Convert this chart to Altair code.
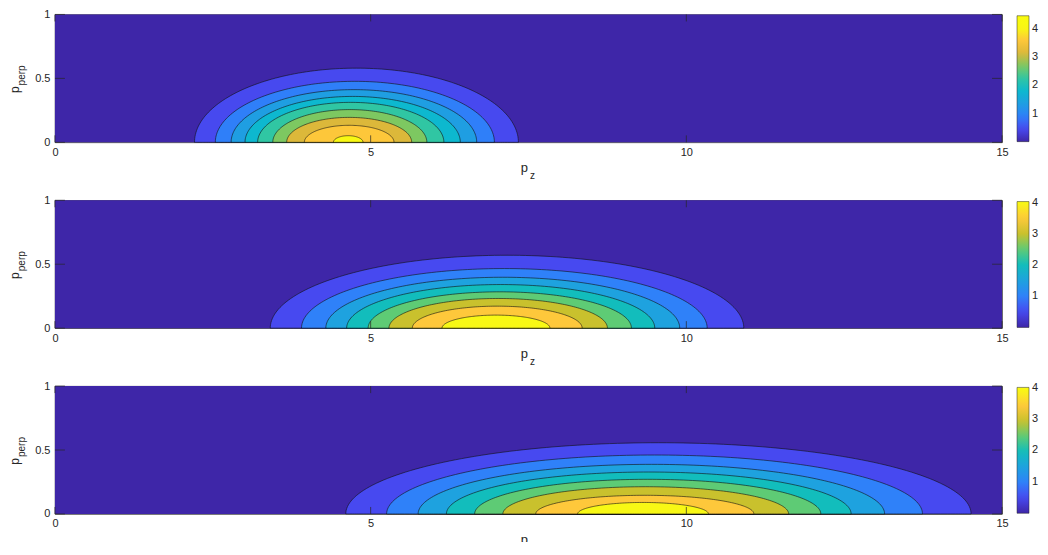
import altair as alt
import numpy as np
import pandas as pd

# ---------------- data ----------------
PZ_RANGE = [0, 15]
PPERP_RANGE = [0, 1]
X_TICKS = [0, 5, 10, 15]
Y_TICKS = [0, 0.5, 1]
CBAR_TICKS = [1, 2, 3, 4]

# contour boundaries, outermost -> innermost: left/right foot on p_perp=0, peak height
p1_levels = [0.45, 0.9, 1.35, 1.8, 2.25, 2.7, 3.15, 3.6, 4.05]
p1_left = [2.21, 2.54, 2.79, 3.01, 3.21, 3.45, 3.67, 3.95, 4.41]
p1_right = [7.34, 6.96, 6.68, 6.42, 6.16, 5.89, 5.65, 5.37, 4.88]
p1_top = [0.58, 0.477, 0.412, 0.359, 0.3125, 0.256, 0.195, 0.133, 0.052]
p1_cmax = 4.48
p1_colors = ["#3e26a8", "#4749ef", "#2f7ff9", "#1f9ee2", "#0db8cf", "#30c6a3",
             "#7dc861", "#dcb83a", "#fdc73a", "#f8f813", "#f9fb0e"]

p2_levels = [0.5, 1.0, 1.5, 2.0, 2.5, 3.0, 3.5, 4.0]
p2_left = [3.41, 3.905, 4.29, 4.62, 4.96, 5.29, 5.66, 6.13]
p2_right = [10.91, 10.33, 9.895, 9.50, 9.13, 8.75, 8.35, 7.84]
p2_top = [0.57, 0.466, 0.398, 0.341, 0.284, 0.232, 0.172, 0.102]
p2_cmax = 4.03
p2_colors = ["#3e26a8", "#4749f0", "#2f81f9", "#1ea2df", "#12bdbc", "#5ecb75",
             "#c9c12d", "#fec83b", "#f8f815", "#f9fb0e"]

p3_levels = [0.49, 0.98, 1.47, 1.96, 2.45, 2.94, 3.43, 3.92]
p3_left = [4.606, 5.253, 5.752, 6.20, 6.647, 7.094, 7.615, 8.278]
p3_right = [14.51, 13.74, 13.14, 12.61, 12.13, 11.62, 11.07, 10.35]
p3_top = [0.557, 0.461, 0.388, 0.328, 0.271, 0.213, 0.146, 0.09]
p3_cmax = 4.01
p3_colors = p2_colors

X_MAIN, X_SUB = "p", "z"
Y_MAIN, Y_SUB = "p", "perp"

# ---------------- styling ----------------
W, H = 948, 128
FONT = "Liberation Sans"
INK = "#262626"


def outline(left, right, top, n=121):
    # half-ellipse outline of one contour through the read feet and peak
    t = np.linspace(0, np.pi, n)
    c = (left + right) / 2
    a = (right - left) / 2
    return pd.DataFrame({"x": c - a * np.cos(t), "y": top * np.sin(t)})


def panel(levels, lefts, rights, tops, cmax, colors):
    xs = alt.Scale(domain=PZ_RANGE, nice=False, zero=False)
    ys = alt.Scale(domain=PPERP_RANGE, nice=False)
    xax = alt.Axis(values=X_TICKS, title=None, ticks=False, tickSize=0, domain=False,
                   grid=False, labelFlush=False, labelPadding=4, format="~g")
    yax = alt.Axis(values=Y_TICKS, title=None, ticks=False, tickSize=0, domain=False,
                   grid=False, labelPadding=5, format="~g")
    cscale = alt.Scale(type="linear", domain=[0] + levels + [cmax], range=colors,
                       interpolate="rgb", nice=False, zero=False)
    leg = alt.Legend(type="gradient", orient="none", legendX=W + 15, legendY=1.3,
                     direction="vertical", title=None, values=CBAR_TICKS,
                     gradientLength=126, gradientThickness=12,
                     gradientStrokeColor=INK, gradientStrokeWidth=0.5,
                     labelOffset=3, labelFontSize=11, labelFont=FONT,
                     labelColor=INK, padding=0, format="~g")
    col = alt.Color("level:Q", scale=cscale, legend=leg)

    bg = pd.DataFrame({"x0": [PZ_RANGE[0]], "x1": [PZ_RANGE[1]],
                       "y0": [PPERP_RANGE[0]], "y1": [PPERP_RANGE[1]], "level": [0]})
    layers = [alt.Chart(bg).mark_rect().encode(
        x=alt.X("x0:Q", scale=xs, axis=xax), x2="x1:Q",
        y=alt.Y("y0:Q", scale=ys, axis=yax), y2="y1:Q", color=col)]

    for lv, l, r, tp in zip(levels, lefts, rights, tops):
        d = outline(l, r, tp)
        d["level"] = lv
        layers.append(alt.Chart(d).mark_area(stroke="#111111", strokeWidth=0.6).encode(
            x=alt.X("x:Q", scale=xs, axis=xax),
            y=alt.Y("y:Q", scale=ys, axis=yax),
            y2=alt.datum(0),
            color=col))

    xt = pd.DataFrame({"v": X_TICKS})
    yt = pd.DataFrame({"v": Y_TICKS})
    tick = dict(color=INK, strokeWidth=0.7)
    layers.append(alt.Chart(xt).mark_rule(**tick).encode(
        x=alt.X("v:Q", scale=xs, axis=xax), y=alt.value(H), y2=alt.value(H - 7)))
    layers.append(alt.Chart(xt).mark_rule(**tick).encode(
        x=alt.X("v:Q", scale=xs, axis=xax), y=alt.value(0), y2=alt.value(7)))
    layers.append(alt.Chart(yt).mark_rule(**tick).encode(
        y=alt.Y("v:Q", scale=ys, axis=yax), x=alt.value(0), x2=alt.value(10)))
    layers.append(alt.Chart(yt).mark_rule(**tick).encode(
        y=alt.Y("v:Q", scale=ys, axis=yax), x=alt.value(W), x2=alt.value(W - 10)))

    one = pd.DataFrame({"k": [0]})
    txt = dict(font=FONT, color=INK)
    layers.append(alt.Chart(one).mark_text(align="right", baseline="alphabetic",
                                           fontSize=13, **txt).encode(
        x=alt.value(W / 2 - 0.5), y=alt.value(158), text=alt.value(X_MAIN)))
    layers.append(alt.Chart(one).mark_text(align="left", baseline="alphabetic",
                                           fontSize=10, **txt).encode(
        x=alt.value(W / 2 + 1.5), y=alt.value(165), text=alt.value(X_SUB)))
    layers.append(alt.Chart(one).mark_text(align="left", baseline="alphabetic",
                                           angle=270, fontSize=12, **txt).encode(
        x=alt.value(-36), y=alt.value(78.7), text=alt.value(Y_MAIN)))
    layers.append(alt.Chart(one).mark_text(align="left", baseline="alphabetic",
                                           angle=270, fontSize=10, **txt).encode(
        x=alt.value(-30), y=alt.value(71), text=alt.value(Y_SUB)))

    return alt.layer(*layers).properties(width=W, height=H)


p1 = panel(p1_levels, p1_left, p1_right, p1_top, p1_cmax, p1_colors)
p2 = panel(p2_levels, p2_left, p2_right, p2_top, p2_cmax, p2_colors)
p3 = panel(p3_levels, p3_left, p3_right, p3_top, p3_cmax, p3_colors)

chart = (
    alt.vconcat(p1, p2, p3, spacing=58, bounds="flush")
    .resolve_scale(color="independent")
    .properties(padding={"left": 0, "top": -0.8, "right": 0, "bottom": -12.2})
    .configure_axis(labelFont=FONT, labelFontSize=11, labelColor=INK)
    .configure_view(stroke=INK, strokeWidth=0.8)
)

chart.save("out.html", embed_options={"renderer": "svg", "actions": False})
